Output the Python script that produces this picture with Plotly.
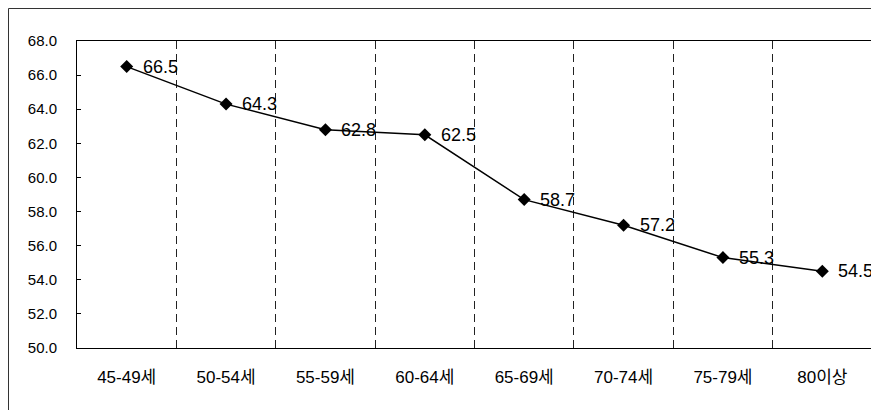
import plotly.graph_objects as go

categories = ["45-49세", "50-54세", "55-59세", "60-64세", "65-69세", "70-74세", "75-79세", "80이상"]
values = [66.5, 64.3, 62.8, 62.5, 58.7, 57.2, 55.3, 54.5]
y_ticks = [50, 52, 54, 56, 58, 60, 62, 64, 66, 68]

FONT = "Liberation Sans, Noto Sans CJK KR, sans-serif"

fig = go.Figure()
fig.add_trace(go.Scatter(
    x=categories, y=values,
    mode="lines+markers",
    line=dict(color="black", width=1.5),
    marker=dict(symbol="diamond", size=10, color="black"),
    cliponaxis=False,
))

for c, v in zip(categories, values):
    fig.add_annotation(x=c, y=v, text=f"{v:.1f}", showarrow=False,
                       xanchor="left", yanchor="middle", xshift=14,
                       font=dict(family=FONT, size=18, color="black"))

# page body has an 8px margin: figure is sized to fit the 879x410 window
W, H = 871, 402
ml, mr, mt, mb = 69, 7, 33, 62
pw, ph = W - ml - mr, H - mt - mb

# outer frame
fig.add_shape(type="rect", xref="paper", yref="paper",
              x0=(0.5 - ml) / pw, x1=1 + (mr + 10) / pw,
              y0=-(mb + 10) / ph, y1=1 + (mt - 0.5) / ph,
              line=dict(color="#333333", width=1), layer="below")

fig.update_layout(
    width=W, height=H,
    margin=dict(l=ml, r=mr, t=mt, b=mb, autoexpand=False),
    paper_bgcolor="white", plot_bgcolor="white",
    showlegend=False,
    font=dict(family=FONT, size=13, color="black"),
    xaxis=dict(
        type="category", tickson="boundaries",
        showgrid=True, gridcolor="#222222", griddash="8px,5px", gridwidth=1,
        showline=True, linecolor="black", linewidth=1, mirror=True,
        ticks="", ticklabelstandoff=14,
        tickfont=dict(family=FONT, size=17),
        range=[-0.5, 7.5], automargin=False,
    ),
    yaxis=dict(
        range=[50, 68], tickvals=y_ticks, tickformat=".1f",
        showgrid=False, zeroline=False,
        showline=True, linecolor="black", linewidth=1, mirror=True,
        ticks="inside", ticklen=4, tickcolor="black",
        ticklabelstandoff=16, automargin=False,
        tickfont=dict(family=FONT, size=15),
    ),
)

fig.write_html("out.html")
